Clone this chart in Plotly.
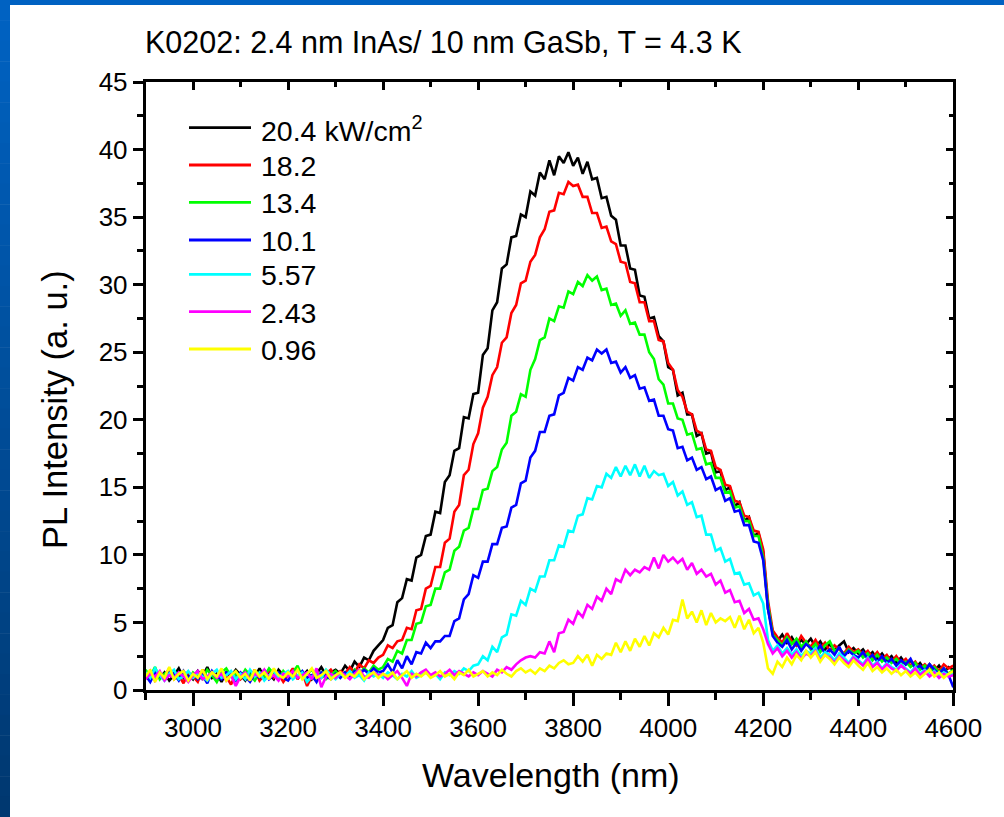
import plotly.graph_objects as go

# ---------------- data ----------------
WAVELENGTH = list(range(2900, 4601, 10))  # nm, 10 nm sampling

POWER_LABELS = ["20.4 kW/cm<sup>2</sup>", "18.2", "13.4", "10.1", "5.57", "2.43", "0.96"]
COLORS = ["#000000", "#FF0000", "#00FF00", "#0000FF", "#00FFFF", "#FF00FF", "#FFFF00"]

I_20_4 = [
    1.2, 0.8, 1.5, 0.9, 1.3, 0.7, 1.1, 1.6, 0.9, 1.2,
    0.8, 1.4, 1.0, 1.7, 0.9, 1.2, 0.6, 1.3, 1.0, 1.5,
    1.1, 0.7, 1.4, 1.0, 1.6, 0.9, 1.2, 0.8, 1.5, 1.1,
    1.3, 0.9, 1.6, 1.0, 1.4, 0.8, 1.2, 1.7, 1.1, 1.3,
    1.5, 1.2, 1.8, 1.4, 2.1, 1.7, 2.4, 2.2, 2.9, 3.3,
    3.7, 4.6, 4.8, 6.5, 6.8, 8.2, 8.1, 9.8, 10.0, 11.4,
    11.5, 13.2, 13.1, 15.4, 15.9, 17.7, 17.9, 20.2, 20.1, 21.9,
    22.0, 24.8, 25.3, 28.1, 28.7, 31.2, 31.5, 33.5, 33.6, 35.2,
    35.0, 36.9, 36.6, 38.3, 37.8, 39.2, 38.1, 39.5, 39.0, 39.8,
    38.8, 39.4, 38.2, 39.1, 37.8, 37.9, 36.4, 36.5, 35.1, 34.8,
    32.9, 32.9, 31.2, 31.1, 29.2, 29.1, 27.5, 27.6, 26.2, 25.8,
    23.9, 23.7, 21.8, 22.0, 20.4, 20.4, 18.8, 19.0, 17.5, 17.6,
    16.1, 16.2, 14.8, 15.0, 13.6, 13.9, 12.5, 12.8, 11.4, 11.6,
    10.2, 6.0, 4.3, 3.6, 4.1, 3.5, 3.9, 3.3, 3.7, 3.4,
    3.8, 3.2, 3.6, 3.0, 3.4, 2.9, 3.3, 3.6, 2.8, 3.1,
    2.7, 3.0, 2.5, 2.8, 2.3, 2.7, 2.2, 2.5, 2.0, 2.4,
    1.9, 2.2, 1.6, 2.0, 1.5, 1.9, 1.4, 1.8, 1.3, 1.7,
    1.5,
]

I_18_2 = [
    0.9, 1.4, 0.7, 1.2, 1.0, 1.6, 0.8, 1.1, 0.5, 1.3,
    1.0, 0.6, 1.5, 0.9, 1.2, 0.7, 1.4, 1.0, 0.4, 1.2,
    0.8, 1.3, 0.9, 1.5, 0.7, 1.1, 1.4, 0.9, 1.2, 0.6,
    1.1, 1.6, 0.8, 1.3, 0.3, 1.0, 1.4, 0.9, 1.2, 1.5,
    1.0, 1.4, 1.2, 1.7, 1.3, 1.9, 1.6, 2.2, 2.0, 2.4,
    2.6, 3.3, 3.1, 3.6, 3.7, 4.6, 4.5, 5.9, 6.0, 7.5,
    7.7, 9.1, 9.1, 10.9, 11.2, 13.2, 13.7, 15.9, 16.3, 18.2,
    19.0, 20.9, 21.7, 23.3, 23.9, 25.7, 26.1, 27.9, 28.5, 30.1,
    30.3, 31.7, 32.2, 33.5, 34.1, 35.4, 35.5, 36.8, 36.7, 37.6,
    37.3, 37.4, 36.5, 36.5, 35.3, 35.3, 34.2, 34.3, 33.2, 33.0,
    31.7, 31.6, 30.2, 30.1, 28.7, 28.7, 27.3, 27.3, 25.9, 25.8,
    24.2, 23.7, 22.2, 21.7, 20.6, 20.4, 19.2, 19.0, 17.8, 17.7,
    16.5, 16.3, 15.2, 15.1, 14.0, 13.9, 12.9, 12.8, 11.8, 11.7,
    10.4, 6.6, 4.4, 3.9, 3.5, 4.2, 3.6, 3.3, 4.0, 3.5,
    3.2, 3.7, 3.1, 3.5, 2.9, 3.3, 3.0, 2.7, 3.2, 2.8,
    3.0, 2.6, 2.9, 2.4, 2.8, 2.3, 2.6, 2.1, 2.5, 2.0,
    2.3, 1.8, 2.1, 1.6, 1.9, 1.5, 1.8, 1.4, 1.9, 1.6,
    1.8,
]

I_13_4 = [
    1.5, 1.0, 1.7, 0.8, 1.2, 1.4, 0.9, 1.3, 1.1, 0.7,
    1.3, 1.0, 0.8, 1.5, 1.1, 0.6, 1.3, 1.6, 1.0, 1.2,
    0.9, 1.5, 1.1, 0.7, 1.3, 1.0, 1.6, 1.2, 0.8, 1.4,
    1.0, 1.3, 1.8, 0.9, 1.2, 1.5, 1.0, 1.3, 0.8, 1.1,
    1.4, 1.0, 1.3, 0.9, 1.5, 1.2, 1.6, 1.3, 1.8, 1.5,
    1.7, 2.3, 2.1, 2.9, 2.7, 3.7, 3.7, 4.9, 5.0, 6.2,
    6.3, 7.5, 7.5, 8.7, 8.9, 10.3, 10.6, 11.8, 12.0, 13.4,
    13.4, 14.8, 14.9, 16.2, 16.5, 17.8, 18.3, 20.3, 20.6, 21.9,
    21.7, 23.7, 24.5, 25.9, 26.1, 27.5, 27.3, 28.4, 28.3, 29.5,
    29.3, 30.2, 29.9, 30.7, 30.3, 30.6, 29.6, 29.7, 28.5, 28.6,
    27.7, 28.1, 27.1, 27.2, 26.3, 26.3, 25.0, 24.5, 23.0, 22.6,
    21.2, 21.2, 20.1, 20.0, 18.9, 19.0, 17.8, 17.9, 16.7, 16.8,
    15.7, 15.7, 14.6, 14.7, 13.5, 13.6, 12.5, 12.5, 11.4, 11.4,
    9.8, 6.3, 4.1, 3.7, 3.3, 3.9, 3.4, 3.8, 3.2, 3.6,
    3.0, 3.4, 2.8, 3.3, 3.6, 2.9, 3.1, 2.6, 3.0, 2.7,
    2.9, 2.4, 2.7, 2.2, 2.6, 2.1, 2.4, 2.0, 2.3, 1.9,
    2.1, 1.7, 2.0, 1.5, 1.8, 1.4, 1.7, 1.3, 1.6, 1.2,
    1.5,
]

I_10_1 = [
    1.1, 0.6, 1.3, 1.0, 0.8, 1.5, 1.2, 0.7, 1.4, 0.9,
    1.2, 0.8, 1.1, 0.5, 1.4, 1.0, 0.8, 1.3, 1.1, 0.7,
    1.3, 1.0, 0.6, 1.2, 0.9, 1.5, 0.8, 1.1, 1.3, 0.9,
    0.7, 1.2, 1.0, 1.4, 0.9, 1.1, 0.6, 1.3, 1.0, 0.8,
    1.2, 0.9, 1.3, 1.0, 1.4, 1.1, 1.5, 1.2, 1.6, 1.3,
    1.4, 1.9, 1.3, 2.2, 1.6, 2.5, 1.9, 2.8, 2.7, 3.5,
    3.1, 3.6, 3.6, 4.0, 4.0, 5.1, 5.3, 6.7, 7.1, 8.5,
    8.3, 9.5, 9.5, 10.8, 10.8, 12.0, 12.1, 13.5, 13.7, 15.3,
    15.5, 17.2, 17.7, 19.1, 19.1, 20.3, 20.4, 21.8, 22.0, 23.1,
    22.9, 23.9, 23.7, 24.6, 24.4, 25.2, 24.9, 25.2, 24.2, 24.3,
    23.5, 23.9, 23.1, 23.3, 22.3, 22.4, 21.4, 21.5, 20.3, 20.3,
    19.3, 19.2, 17.9, 18.0, 17.0, 17.2, 16.3, 16.5, 15.6, 15.8,
    14.8, 15.0, 14.0, 14.2, 13.2, 13.3, 12.2, 12.2, 11.0, 10.9,
    9.6, 6.0, 4.0, 3.5, 3.2, 3.7, 3.0, 3.5, 2.9, 3.4,
    3.1, 2.8, 3.3, 2.7, 3.0, 2.6, 3.2, 2.5, 2.9, 2.6,
    2.4, 2.8, 2.3, 2.6, 2.1, 2.5, 2.0, 2.3, 1.8, 2.2,
    1.9, 2.3, 1.6, 1.8, 1.4, 1.9, 1.5, 1.2, 1.6, 1.1,
    0.2,
]

I_5_57 = [
    1.3, 0.9, 1.6, 1.1, 0.7, 1.2, 1.5, 0.8, 1.0, 1.4,
    0.9, 1.3, 1.0, 0.7, 1.2, 1.5, 0.9, 1.1, 1.4, 0.8,
    1.2, 0.8, 1.5, 1.0, 1.3, 0.7, 1.1, 1.4, 0.9, 1.2,
    1.4, 0.8, 1.1, 1.3, 0.6, 1.0, 1.2, 0.9, 1.5, 1.1,
    0.8, 1.2, 1.0, 1.4, 0.9, 1.1, 0.7, 1.3, 1.0, 1.2,
    0.9, 1.3, 1.1, 0.8, 1.2, 1.0, 1.4, 0.9, 1.1, 1.3,
    1.0, 1.2, 0.8, 1.3, 1.1, 1.4, 1.2, 1.6, 1.4, 1.8,
    1.9, 2.5, 2.2, 3.2, 2.8, 3.9, 4.1, 5.6, 5.5, 6.6,
    6.3, 7.5, 7.3, 8.4, 8.4, 9.6, 9.6, 10.7, 10.6, 11.8,
    11.7, 12.9, 13.0, 14.2, 14.1, 15.1, 15.0, 16.0, 15.7, 16.5,
    15.8, 16.6, 15.9, 16.7, 15.8, 16.6, 15.7, 16.2, 15.9, 16.0,
    15.1, 15.4, 14.4, 14.7, 13.7, 13.9, 12.8, 12.9, 11.5, 11.5,
    10.3, 10.5, 9.5, 9.7, 8.6, 8.7, 7.8, 7.9, 7.0, 7.2,
    6.4, 3.7, 2.9, 3.3, 2.7, 3.1, 2.6, 3.0, 2.5, 2.9,
    2.7, 3.1, 2.4, 2.8, 2.6, 2.2, 2.7, 2.4, 2.0, 2.5,
    2.2, 1.9, 2.4, 1.8, 2.1, 1.6, 2.0, 1.7, 1.5, 1.9,
    1.6, 1.3, 1.7, 1.2, 1.5, 1.1, 1.4, 1.0, 1.3, 1.1,
    1.2,
]

I_2_43 = [
    0.8, 1.2, 1.0, 1.4, 0.7, 1.1, 0.9, 1.3, 1.0, 0.6,
    1.1, 1.4, 0.8, 1.0, 1.3, 0.9, 1.2, 0.7, 1.1, 0.3,
    1.0, 1.3, 0.8, 1.2, 1.0, 1.5, 0.9, 1.1, 0.7, 1.2,
    1.0, 1.4, 0.9, 1.1, 1.3, 0.8, 1.6, 0.2, 1.0, 1.2,
    0.9, 1.3, 1.1, 0.8, 1.2, 1.5, 1.0, 0.9, 1.3, 1.1,
    1.2, 0.8, 1.1, 1.4, 0.9, 0.3, 1.2, 1.0, 1.3, 1.5,
    1.1, 1.3, 1.0, 1.2, 1.5, 1.1, 1.4, 1.2, 1.0, 1.3,
    1.1, 1.4, 1.2, 1.0, 1.5, 1.3, 1.7, 1.5, 1.9, 2.2,
    2.4, 2.5, 2.4, 2.8, 2.7, 3.6, 2.8, 4.2, 4.3, 5.2,
    4.9, 5.8, 5.4, 6.3, 6.0, 6.9, 6.6, 7.5, 7.1, 8.2,
    8.0, 8.9, 8.5, 8.9, 8.7, 9.1, 8.9, 9.8, 9.0, 10.0,
    9.5, 9.8, 9.4, 9.7, 8.9, 9.4, 8.6, 8.9, 8.4, 8.6,
    7.8, 8.1, 7.2, 7.4, 6.5, 6.6, 5.7, 6.0, 5.2, 5.3,
    4.5, 3.4, 2.7, 3.1, 2.5, 2.9, 2.4, 2.8, 2.3, 2.7,
    2.5, 2.9, 2.2, 2.6, 2.4, 2.0, 2.5, 2.2, 1.9, 2.4,
    2.1, 1.8, 2.3, 1.7, 2.0, 1.5, 1.9, 1.6, 1.4, 1.8,
    1.5, 1.2, 1.6, 1.1, 1.4, 1.0, 1.3, 0.9, 1.2, 1.0,
    1.1,
]

I_0_96 = [
    1.0, 1.5, 0.6, 1.3, 0.9, 1.7, 0.8, 1.2, 1.4, 0.7,
    1.2, 0.9, 1.5, 0.8, 1.3, 1.0, 1.6, 0.7, 1.1, 1.4,
    0.9, 1.2, 0.7, 1.5, 1.0, 1.3, 0.8, 1.6, 1.1, 0.9,
    1.3, 1.0, 1.5, 0.8, 1.2, 1.6, 0.9, 1.1, 1.4, 0.8,
    1.1, 1.3, 0.9, 1.2, 1.0, 1.4, 0.8, 1.1, 1.3, 0.9,
    1.2, 1.0, 1.3, 0.8, 1.1, 1.4, 0.9, 1.2, 1.0, 1.3,
    0.9, 1.1, 1.4, 1.0, 1.2, 0.8, 1.3, 1.1, 1.5, 1.0,
    1.2, 1.4, 1.0, 1.3, 1.1, 1.5, 1.2, 1.0, 1.4, 1.6,
    1.3, 1.5, 1.2, 1.6, 1.4, 1.8, 1.6, 2.0, 2.2, 1.9,
    2.0, 2.5, 2.1, 2.6, 1.8, 2.6, 2.3, 2.7, 2.6, 3.5,
    2.8, 3.6, 2.9, 3.8, 3.2, 4.0, 3.3, 4.2, 3.9, 4.6,
    4.1, 5.2, 5.1, 6.7, 5.3, 5.8, 5.0, 5.9, 4.8, 5.7,
    5.0, 5.3, 5.1, 5.4, 4.6, 5.5, 4.5, 5.2, 4.2, 4.6,
    3.5, 1.6, 1.2, 2.1, 1.7, 2.4, 1.9, 2.6, 2.2, 2.9,
    2.4, 2.8, 2.1, 2.6, 2.3, 1.9, 2.4, 2.0, 1.7, 2.2,
    1.8, 1.5, 2.0, 1.4, 1.7, 1.3, 1.6, 1.2, 1.5, 1.1,
    1.4, 1.0, 1.3, 0.9, 1.2, 1.5, 1.0, 1.3, 0.9, 1.2,
    1.4,
]

SERIES = [I_20_4, I_18_2, I_13_4, I_10_1, I_5_57, I_2_43, I_0_96]

X_TICKS = [3000, 3200, 3400, 3600, 3800, 4000, 4200, 4400, 4600]
Y_TICKS = [0, 5, 10, 15, 20, 25, 30, 35, 40, 45]
TITLE = "K0202: 2.4 nm InAs/ 10 nm GaSb, T = 4.3 K"
X_TITLE = "Wavelength (nm)"
Y_TITLE = "PL Intensity (a. u.)"

# ---------------- layout geometry (pixels) ----------------
W, H = 1004, 817
PX_L, PX_R = 145.5, 953.3
PX_T, PX_B = 82.0, 690.0
FONT = "Liberation Sans, Arial, Helvetica, sans-serif"

def px_x(p):
    return p / W

def px_y(p):
    return 1 - p / H

fig = go.Figure()
for vals, col, name in zip(SERIES, COLORS, POWER_LABELS):
    fig.add_trace(go.Scatter(
        x=WAVELENGTH, y=vals, mode="lines", name=name,
        line=dict(color=col, width=2.6), showlegend=False,
    ))

# empty trace to create the mirrored (top/right) axes
fig.add_trace(go.Scatter(x=[], y=[], xaxis="x2", yaxis="y2", showlegend=False, hoverinfo="skip"))

axis_common = dict(showgrid=False, zeroline=False, showline=True, linecolor="black",
                   linewidth=2.5, tickcolor="black", tickwidth=2.5, automargin=False)

fig.update_layout(
    template="none",
    width=W, height=H,
    autosize=False,
    showlegend=False,
    margin=dict(l=0, r=0, t=0, b=0, pad=0, autoexpand=False),
    paper_bgcolor="white", plot_bgcolor="white",
    font=dict(family=FONT, color="black"),
    xaxis=dict(domain=[px_x(PX_L), px_x(PX_R)], range=[2900, 4600],
               tickmode="array", tickvals=X_TICKS, ticktext=[str(v) for v in X_TICKS],
               ticks="outside", ticklen=13, tickfont=dict(size=26, color="black"),
               minor=dict(tickmode="linear", tick0=2900, dtick=100, ticks="outside",
                          ticklen=7, tickwidth=2.5, tickcolor="black", showgrid=False),
               **axis_common),
    yaxis=dict(domain=[px_y(PX_B), px_y(PX_T)], range=[0, 45],
               tickmode="array", tickvals=Y_TICKS, ticktext=[str(v) for v in Y_TICKS],
               ticks="outside", ticklen=10, tickfont=dict(size=26, color="black"),
               minor=dict(tickmode="linear", tick0=0, dtick=2.5, ticks="outside",
                          ticklen=6, tickwidth=2.5, tickcolor="black", showgrid=False),
               **axis_common),
    xaxis2=dict(overlaying="x", side="top", anchor="y", range=[2900, 4600],
                tickmode="array", tickvals=X_TICKS, showticklabels=False,
                ticks="inside", ticklen=8,
                minor=dict(tickmode="linear", tick0=2900, dtick=100, ticks="inside",
                           ticklen=5, tickwidth=2.5, tickcolor="black", showgrid=False),
                **axis_common),
    yaxis2=dict(overlaying="y", side="right", anchor="x", range=[0, 45],
                tickmode="array", tickvals=Y_TICKS, showticklabels=False,
                ticks="inside", ticklen=8,
                minor=dict(tickmode="linear", tick0=0, dtick=2.5, ticks="inside",
                           ticklen=5, tickwidth=2.5, tickcolor="black", showgrid=False),
                **axis_common),
)

shapes = []
# slide frame: top band and left gradient band
shapes.append(dict(type="rect", xref="paper", yref="paper", x0=0, x1=1,
                   y0=px_y(5), y1=1, fillcolor="#0062C2", line=dict(width=0), layer="above"))
n_strips = 40
c_top = (0, 98, 194)
c_bot = (0, 56, 112)
for k in range(n_strips):
    t = k / (n_strips - 1)
    c = tuple(int(round(a + (b - a) * t)) for a, b in zip(c_top, c_bot))
    y0 = H * k / n_strips
    y1 = H * (k + 1) / n_strips
    shapes.append(dict(type="rect", xref="paper", yref="paper", x0=0, x1=px_x(10),
                       y0=px_y(y1 + 0.5), y1=px_y(y0), fillcolor="rgb(%d,%d,%d)" % c,
                       line=dict(width=0), layer="above"))

# legend (drawn manually to match long legend lines)
LEG_Y = [127.7, 165.0, 202.3, 240.0, 274.3, 311.7, 349.0]
annotations = []
for ly, col, name in zip(LEG_Y, COLORS, POWER_LABELS):
    shapes.append(dict(type="line", xref="paper", yref="paper", x0=px_x(189), x1=px_x(251),
                       y0=px_y(ly), y1=px_y(ly), line=dict(color=col, width=2.8)))
    annotations.append(dict(xref="paper", yref="paper", x=px_x(259), y=px_y(ly + 1),
                            text=name, showarrow=False, xanchor="left", yanchor="middle",
                            font=dict(size=28.5, family=FONT, color="black")))

annotations.append(dict(xref="paper", yref="paper", x=px_x(143), y=px_y(42), text=TITLE,
                        showarrow=False, xanchor="left", yanchor="middle",
                        font=dict(size=30.5, family=FONT, color="black")))
annotations.append(dict(xref="paper", yref="paper", x=px_x(551), y=px_y(775), text=X_TITLE,
                        showarrow=False, xanchor="center", yanchor="middle",
                        font=dict(size=34, family=FONT, color="black")))
annotations.append(dict(xref="paper", yref="paper", x=px_x(55), y=px_y(410), text=Y_TITLE,
                        showarrow=False, xanchor="center", yanchor="middle", textangle=-90,
                        font=dict(size=34.5, family=FONT, color="black")))

fig.update_layout(shapes=shapes, annotations=annotations)
fig.write_html(
    "out.html",
    config={"responsive": False, "displayModeBar": False},
    post_script="document.body.style.margin='0';document.body.style.padding='0';"
                "document.documentElement.style.overflow='hidden';",
)
